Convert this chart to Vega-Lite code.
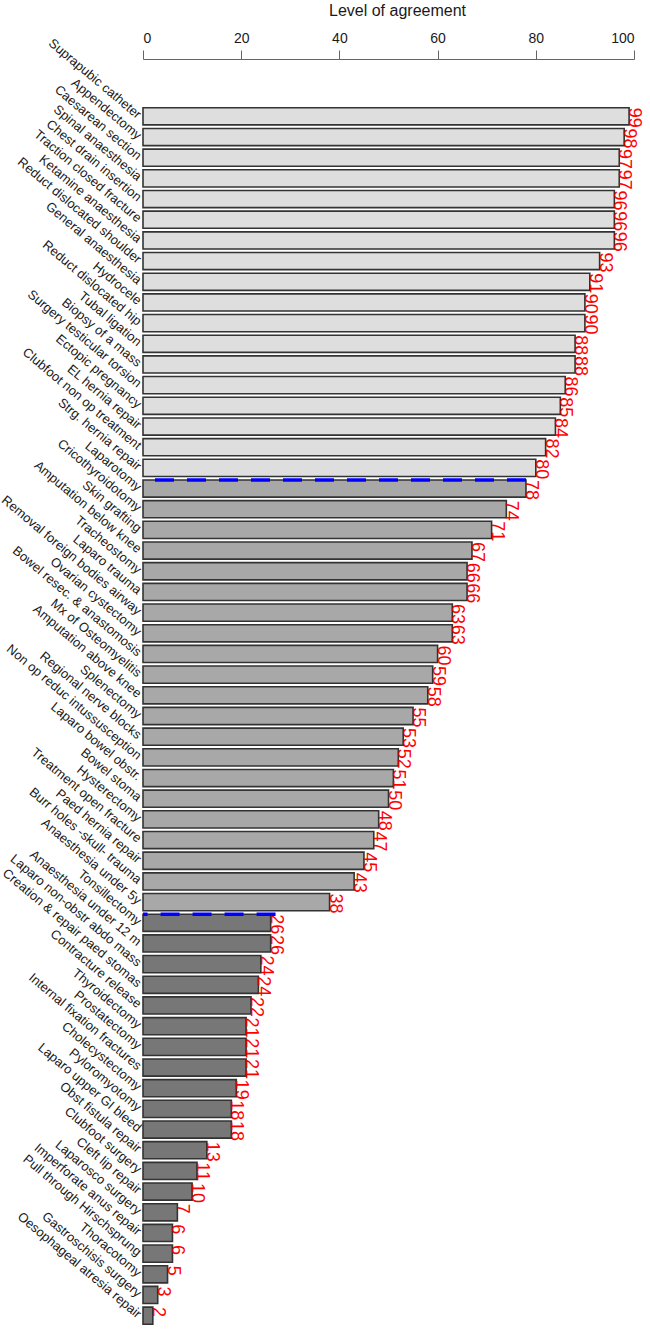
{
  "$schema": "https://vega.github.io/schema/vega-lite/v6.json",
  "width": 491,
  "height": 1220,
  "autosize": {"type": "none"},
  "padding": {"left": 143, "top": 106, "right": 16, "bottom": 3},
  "background": "white",
  "config": {"view": {"stroke": null}, "font": "Liberation Sans"},
  "datasets": {
    "bars": [
      {"procedure": "Suprapubic catheter", "value": 99, "group": "high"},
      {"procedure": "Appendectomy", "value": 98, "group": "high"},
      {"procedure": "Caesarean section", "value": 97, "group": "high"},
      {"procedure": "Spinal anaesthesia", "value": 97, "group": "high"},
      {"procedure": "Chest drain insertion", "value": 96, "group": "high"},
      {"procedure": "Traction closed fracture", "value": 96, "group": "high"},
      {"procedure": "Ketamine anaesthesia", "value": 96, "group": "high"},
      {"procedure": "Reduct dislocated shoulder", "value": 93, "group": "high"},
      {"procedure": "General anaesthesia", "value": 91, "group": "high"},
      {"procedure": "Hydrocele", "value": 90, "group": "high"},
      {"procedure": "Reduct dislocated hip", "value": 90, "group": "high"},
      {"procedure": "Tubal ligation", "value": 88, "group": "high"},
      {"procedure": "Biopsy of a mass", "value": 88, "group": "high"},
      {"procedure": "Surgery testicular torsion", "value": 86, "group": "high"},
      {"procedure": "Ectopic pregnancy", "value": 85, "group": "high"},
      {"procedure": "EL hernia repair", "value": 84, "group": "high"},
      {"procedure": "Clubfoot non op treatment", "value": 82, "group": "high"},
      {"procedure": "Strg. hernia repair", "value": 80, "group": "high"},
      {"procedure": "Laparotomy", "value": 78, "group": "mid"},
      {"procedure": "Cricothyroidotomy", "value": 74, "group": "mid"},
      {"procedure": "Skin grafting", "value": 71, "group": "mid"},
      {"procedure": "Amputation below knee", "value": 67, "group": "mid"},
      {"procedure": "Tracheostomy", "value": 66, "group": "mid"},
      {"procedure": "Laparo trauma", "value": 66, "group": "mid"},
      {"procedure": "Removal foreign bodies airway", "value": 63, "group": "mid"},
      {"procedure": "Ovarian cystectomy", "value": 63, "group": "mid"},
      {"procedure": "Bowel resec. & anastomosis", "value": 60, "group": "mid"},
      {"procedure": "Mx of Osteomyelitis", "value": 59, "group": "mid"},
      {"procedure": "Amputation above knee", "value": 58, "group": "mid"},
      {"procedure": "Splenectomy", "value": 55, "group": "mid"},
      {"procedure": "Regional nerve blocks", "value": 53, "group": "mid"},
      {"procedure": "Non op reduc intussusception", "value": 52, "group": "mid"},
      {"procedure": "Laparo bowel obstr.", "value": 51, "group": "mid"},
      {"procedure": "Bowel stoma", "value": 50, "group": "mid"},
      {"procedure": "Hysterectomy", "value": 48, "group": "mid"},
      {"procedure": "Treatment open fracture", "value": 47, "group": "mid"},
      {"procedure": "Paed hernia repair", "value": 45, "group": "mid"},
      {"procedure": "Burr holes -skull- trauma", "value": 43, "group": "mid"},
      {"procedure": "Anaesthesia under 5y", "value": 38, "group": "mid"},
      {"procedure": "Tonsillectomy", "value": 26, "group": "low"},
      {"procedure": "Anaesthesia under 12 m", "value": 26, "group": "low"},
      {"procedure": "Laparo non-obstr abdo mass", "value": 24, "group": "low"},
      {"procedure": "Creation & repair paed stomas", "value": 23.5, "group": "low"},
      {"procedure": "Contracture release", "value": 22, "group": "low"},
      {"procedure": "Thyroidectomy", "value": 21, "group": "low"},
      {"procedure": "Prostatectomy", "value": 21, "group": "low"},
      {"procedure": "Internal fixation fractures", "value": 21, "group": "low"},
      {"procedure": "Cholecystectomy", "value": 19, "group": "low"},
      {"procedure": "Pyloromyotomy", "value": 18, "group": "low"},
      {"procedure": "Laparo upper GI bleed", "value": 18, "group": "low"},
      {"procedure": "Obst fistula repair", "value": 13, "group": "low"},
      {"procedure": "Clubfoot surgery", "value": 11, "group": "low"},
      {"procedure": "Cleft lip repair", "value": 10, "group": "low"},
      {"procedure": "Laparosco surgery", "value": 7, "group": "low"},
      {"procedure": "Imperforate anus repair", "value": 6, "group": "low"},
      {"procedure": "Pull through Hirschsprung", "value": 6, "group": "low"},
      {"procedure": "Thoracotomy", "value": 5, "group": "low"},
      {"procedure": "Gastroschisis surgery", "value": 3, "group": "low"},
      {"procedure": "Oesophageal atresia repair", "value": 2, "group": "low"}
    ],
    "cuts": [
      {"procedure": "Laparotomy", "value": 78},
      {"procedure": "Tonsillectomy", "value": 27}
    ]
  },
  "layer": [
    {
      "data": {"name": "bars"},
      "mark": {"type": "bar", "stroke": "#333333", "strokeWidth": 1.6},
      "encoding": {
        "y": {
          "field": "procedure", "type": "nominal", "sort": null,
          "scale": {"paddingInner": 0.17, "paddingOuter": 0.085},
          "axis": {
            "title": null, "domain": false, "ticks": false,
            "labelAngle": 40, "labelAlign": "right", "labelBaseline": "middle",
            "labelFontSize": 13, "labelPadding": 4, "labelLimit": 0,
            "labelOverlap": false, "labelColor": "#1a1a1a"
          }
        },
        "x": {
          "field": "value", "type": "quantitative",
          "scale": {"domain": [0, 100], "nice": false},
          "axis": {
            "orient": "top", "offset": 47, "grid": false,
            "values": [0, 20, 40, 60, 80, 100],
            "tickSize": 9, "tickColor": "#666666", "domainColor": "#666666",
            "labelFontSize": 14, "labelColor": "#1a1a1a", "labelPadding": 5,
            "title": "Level of agreement", "titleFontSize": 16, "titleFontWeight": "normal",
            "titleColor": "#1a1a1a", "titleX": 254, "titleY": -44, "titleBaseline": "alphabetic"
          }
        },
        "color": {
          "field": "group", "type": "nominal",
          "scale": {"domain": ["high", "mid", "low"], "range": ["#dedede", "#a8a8a8", "#777777"]},
          "legend": null
        }
      }
    },
    {
      "data": {"name": "bars"},
      "mark": {"type": "text", "angle": 90, "align": "left", "baseline": "alphabetic", "color": "#ff0000", "fontSize": 18},
      "encoding": {
        "y": {"field": "procedure", "type": "nominal", "sort": null, "bandPosition": 0},
        "x": {"field": "value", "type": "quantitative"},
        "text": {"field": "value", "type": "quantitative", "format": ".0f"}
      }
    },
    {
      "data": {"name": "cuts"},
      "mark": {"type": "rule", "color": "#0000ff", "strokeWidth": 3.5, "strokeDash": [19, 13]},
      "encoding": {
        "y": {"field": "procedure", "type": "nominal", "sort": null, "bandPosition": 0},
        "x": {"field": "value", "type": "quantitative"},
        "x2": {"datum": 0}
      }
    }
  ]
}
